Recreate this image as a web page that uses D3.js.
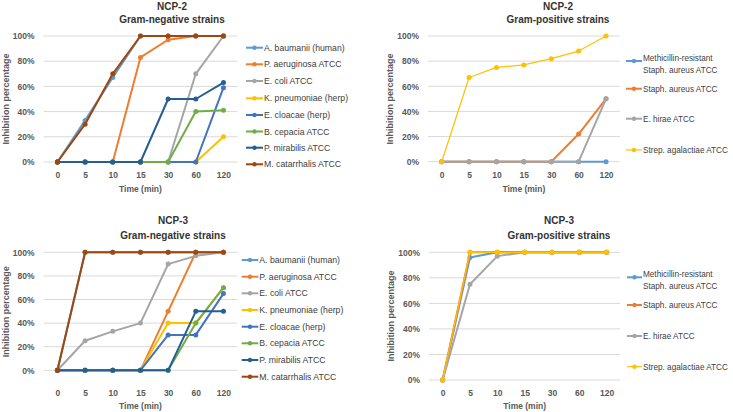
<!DOCTYPE html>
<html>
<head>
<meta charset="utf-8">
<script src="https://cdn.jsdelivr.net/npm/d3@7"></script>
<style>
  body { margin: 0; background: #fff; }
  svg text { font-family: "Liberation Sans", Arial, sans-serif; }
  .tick text { font-weight: bold; fill: #595959; font-size: 8.5px; }
  .domain { display: none; }
</style>
</head>
<body>
<div id="chart"></div>
<script>
var svgWidth = 733;
var svgHeight = 412;

// ---- data ----
var timeLabels = ["0", "5", "10", "15", "30", "60", "120"];
var yTicks = [0, 20, 40, 60, 80, 100];

var gnStrains = ["A. baumanii (human)", "P. aeruginosa ATCC", "E. coli ATCC", "K. pneumoniae (herp)",
    "E. cloacae (herp)", "B. cepacia ATCC", "P. mirabilis ATCC", "M. catarrhalis ATCC"];
var gnColors = ["#5B9BD5", "#ED7D31", "#A5A5A5", "#FFC000", "#4472C4", "#70AD47", "#255E91", "#9E480E"];

var gpStrains = [["Methicillin-resistant", "Staph. aureus ATCC"], ["Staph. aureus ATCC"], ["E. hirae ATCC"], ["Strep. agalactiae ATCC"]];
var gpColors = ["#5B9BD5", "#ED7D31", "#A5A5A5", "#FFC000"];

// NCP-2, gram-negative (% inhibition per time point)
var ncp2Gn = [
    [0, 33, 67, 100, 100, 100, 100],
    [0, 0, 0, 83, 97, 100, 100],
    [0, 0, 0, 0, 0, 70, 100],
    [0, 0, 0, 0, 0, 0, 20],
    [0, 0, 0, 0, 0, 0, 59],
    [0, 0, 0, 0, 0, 40, 41],
    [0, 0, 0, 0, 50, 50, 63],
    [0, 30, 70, 100, 100, 100, 100]
];

// NCP-2, gram-positive
var ncp2Gp = [
    [0, 0, 0, 0, 0, 0, 0],
    [0, 0, 0, 0, 0, 22, 50],
    [0, 0, 0, 0, 0, 0, 50],
    [0, 67, 75, 77, 82, 88, 100]
];

// NCP-3, gram-negative
var ncp3Gn = [
    [0, 100, 100, 100, 100, 100, 100],
    [0, 0, 0, 0, 50, 100, 100],
    [0, 25, 33, 40, 90, 97, 100],
    [0, 0, 0, 0, 40, 40, 70],
    [0, 0, 0, 0, 30, 30, 65],
    [0, 0, 0, 0, 0, 40, 70],
    [0, 0, 0, 0, 0, 50, 50],
    [0, 100, 100, 100, 100, 100, 100]
];

// NCP-3, gram-positive
var ncp3Gp = [
    [0, 96, 100, 100, 100, 100, 100],
    [0, 100, 100, 100, 100, 100, 100],
    [0, 75, 97, 100, 100, 100, 100],
    [0, 100, 100, 100, 100, 100, 100]
];

var svg = d3.select("#chart").append("svg").attr("width", svgWidth).attr("height", svgHeight);

function drawPanel(p) {
    var g = svg.append("g");

    var x = d3.scalePoint().domain(timeLabels).range([p.left, p.right]).padding(0.5);
    var y = d3.scaleLinear().domain([0, 100]).range([p.bottom, p.top]);

    // gridlines
    g.selectAll(".grid").data(yTicks).enter().append("line")
        .attr("x1", p.left).attr("x2", p.right)
        .attr("y1", d => y(d)).attr("y2", d => y(d))
        .attr("stroke", "#D9D9D9").attr("stroke-width", 1);

    var leftAxis = d3.axisLeft(y).tickValues(yTicks).tickSize(0).tickPadding(9).tickFormat(d => d + "%");
    g.append("g").attr("transform", `translate(${p.left},0)`).call(leftAxis);

    var bottomAxis = d3.axisBottom(x).tickSize(0).tickPadding(0);
    var xa = g.append("g").attr("transform", `translate(0,${p.tickY})`).call(bottomAxis);
    xa.selectAll("text").attr("dy", "0.35em").attr("y", 0);

    // titles
    g.append("text").attr("x", p.titleX).attr("y", p.title1Y).attr("dy", "0.35em")
        .attr("text-anchor", "middle").attr("font-size", "10px").attr("font-weight", "bold")
        .attr("fill", "#333333").text(p.name);
    g.append("text").attr("x", p.titleX).attr("y", p.title2Y).attr("dy", "0.35em")
        .attr("text-anchor", "middle").attr("font-size", "10px").attr("font-weight", "bold")
        .attr("fill", "#333333").text(p.sub);

    g.append("text").attr("x", (p.left + p.right) / 2).attr("y", p.timeY).attr("dy", "0.35em")
        .attr("text-anchor", "middle").attr("font-size", "8.5px").attr("font-weight", "bold")
        .attr("fill", "#595959").text("Time (min)");

    g.append("text").attr("transform", `translate(${p.ylabX},${p.ylabY}) rotate(-90)`).attr("dy", "0.35em")
        .attr("text-anchor", "middle").attr("font-size", "9px").attr("font-weight", "bold")
        .attr("fill", "#595959").text("Inhibition percentage");

    var line = d3.line().x((d, i) => x(timeLabels[i])).y(d => y(d));

    p.values.forEach(function(vals, k) {
        var w = p.widths ? p.widths[k] : 2;
        g.append("path").datum(vals).attr("d", line).attr("fill", "none")
            .attr("stroke", p.colors[k]).attr("stroke-width", w).attr("stroke-linejoin", "round");
        g.selectAll(null).data(vals).enter().append("circle")
            .attr("cx", (d, i) => x(timeLabels[i])).attr("cy", d => y(d))
            .attr("r", 2.5).attr("fill", p.colors[k]);
    });

    // legend
    p.labels.forEach(function(lab, k) {
        var ly = p.legY[k];
        var w = p.widths ? p.widths[k] : 2;
        g.append("line").attr("x1", p.legX0).attr("x2", p.legX1).attr("y1", ly).attr("y2", ly)
            .attr("stroke", p.colors[k]).attr("stroke-width", w);
        g.append("circle").attr("cx", (p.legX0 + p.legX1) / 2).attr("cy", ly).attr("r", 2.2).attr("fill", p.colors[k]);
        var lines = Array.isArray(lab) ? lab : [lab];
        var y0 = lines.length > 1 ? ly - 3 : ly;
        lines.forEach(function(t, j) {
            g.append("text").attr("x", p.legX1 + 1).attr("y", y0 + j * 11.7).attr("dy", "0.35em")
                .attr("font-size", p.legFont + "px").attr("fill", "#404040").text(t);
        });
    });
}

drawPanel({
    name: "NCP-2", sub: "Gram-negative strains", values: ncp2Gn, colors: gnColors, labels: gnStrains,
    left: 43.6, right: 237.3, top: 36, bottom: 162, tickY: 175, titleX: 172, title1Y: 6, title2Y: 19,
    timeY: 189, ylabX: 6, ylabY: 99, legX0: 246, legX1: 263, legFont: 8.7,
    legY: [47.7, 64.3, 81, 98.3, 115, 131.5, 147.7, 164.3]
});

drawPanel({
    name: "NCP-2", sub: "Gram-positive strains", values: ncp2Gp, colors: gpColors, labels: gpStrains,
    widths: [2, 2, 2, 1.2],
    left: 428, right: 619.7, top: 36, bottom: 161.7, tickY: 175, titleX: 558, title1Y: 6, title2Y: 19,
    timeY: 189, ylabX: 390, ylabY: 99, legX0: 626, legX1: 642, legFont: 8.2,
    legY: [61, 88.7, 118.7, 150]
});

drawPanel({
    name: "NCP-3", sub: "Gram-negative strains", values: ncp3Gn, colors: gnColors, labels: gnStrains,
    left: 43.6, right: 237.3, top: 252.3, bottom: 370.3, tickY: 392.7, titleX: 173, title1Y: 220.7, title2Y: 235.7,
    timeY: 405.7, ylabX: 6, ylabY: 311.7, legX0: 241.7, legX1: 258.3, legFont: 8.7,
    legY: [260, 276.7, 293.3, 310, 326.7, 343.3, 360, 376.7]
});

drawPanel({
    name: "NCP-3", sub: "Gram-positive strains", values: ncp3Gp, colors: gpColors, labels: gpStrains,
    widths: [2, 2, 2, 1.2],
    left: 429, right: 620.3, top: 252.3, bottom: 380, tickY: 392.7, titleX: 559, title1Y: 220.7, title2Y: 235.7,
    timeY: 405.7, ylabX: 391, ylabY: 316, legX0: 627, legX1: 642, legFont: 8.2,
    legY: [277.3, 305, 336, 366.7]
});
</script>
</body>
</html>
